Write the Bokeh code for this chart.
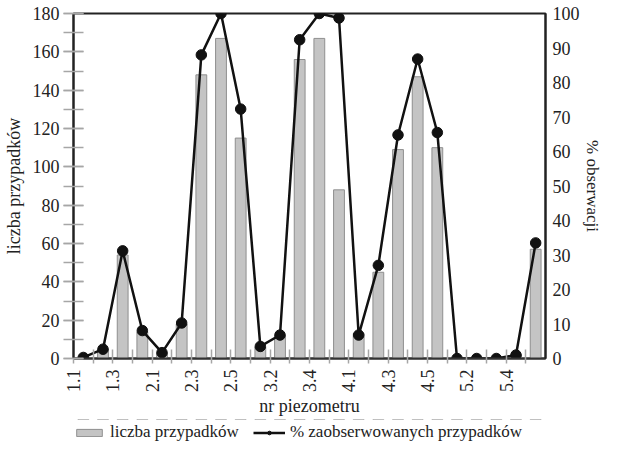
from bokeh.plotting import figure
from bokeh.layouts import column
from bokeh.models import (Range1d, LinearAxis, FixedTicker, SingleIntervalTicker,
                          Legend, LegendItem, ColumnDataSource)
from bokeh.embed import file_html
from bokeh.resources import INLINE
import math

# ---- data ----
categories = ["1.1", "1.2", "1.3", "1.4", "2.1", "2.2", "2.3", "2.4", "2.5", "3.1",
              "3.2", "3.3", "3.4", "3.5", "4.1", "4.2", "4.3", "4.4", "4.5", "5.1",
              "5.2", "5.3", "5.4", "5.5"]
counts = [1, 5, 54, 14, 3, 18, 148, 167, 115, 6, 12, 156, 167, 88, 13, 45, 109, 147,
          110, 0, 0, 0, 2, 57]
percent = [0.3, 2.7, 31.2, 8.1, 1.7, 10.3, 88, 100, 72.3, 3.5, 6.8, 92.4, 100, 98.7,
           6.8, 27, 64.8, 86.8, 65.5, 0, 0, 0, 1, 33.5]
tick_labels = categories[::2]
legend_labels = ["liczba przypadków", "% zaobserwowanych przypadków"]

FONT = "Liberation Serif"
TXT = "#222222"
BAR_FILL, BAR_LINE = "#c4c4c4", "#8f8f8f"
LINE_COL = "#111111"

xpos = [i + 0.5 for i in range(len(categories))]
src = ColumnDataSource(dict(x=xpos, counts=counts, pct=percent, cat=categories))

p = figure(width=605, height=419, x_range=Range1d(0, len(categories)),
           y_range=Range1d(0, 180), output_backend="svg", toolbar_location=None,
           min_border_left=70, min_border_right=60, min_border_top=13,
           min_border_bottom=60)
p.extra_y_ranges = {"pct": Range1d(0, 100)}
p.xgrid.visible = False
p.ygrid.visible = False
p.outline_line_color = "#222222"
p.outline_line_width = 2
p.background_fill_color = "white"
p.border_fill_color = "white"

p.vbar(x="x", top="counts", width=0.55, source=src, fill_color=BAR_FILL,
       line_color=BAR_LINE, line_width=1)
p.line(x="x", y="pct", source=src, y_range_name="pct", line_color=LINE_COL,
       line_width=2.5)
p.scatter(x="x", y="pct", source=src, y_range_name="pct", marker="circle",
          size=10.5, fill_color=LINE_COL, line_color=LINE_COL)

# x axis
xa = p.xaxis[0]
xa.ticker = FixedTicker(ticks=list(range(0, len(categories), 2)),
                        minor_ticks=list(range(1, len(categories) + 1, 2)))
xa.major_label_overrides = {i * 2: lab for i, lab in enumerate(tick_labels)}
xa.major_label_orientation = math.pi / 2
xa.major_tick_in = 9
xa.major_tick_out = 5
xa.minor_tick_in = 9
xa.minor_tick_out = 5
xa.major_tick_line_color = "#a6a6a6"
xa.minor_tick_line_color = "#a6a6a6"
xa.major_tick_line_width = 1.5
xa.minor_tick_line_width = 1.5
xa.axis_line_color = "#333333"
xa.axis_line_width = 2
xa.major_label_standoff = 6
xa.axis_label = "nr piezometru"
xa.axis_label_standoff = 1
xa.axis_label_text_font = FONT
xa.axis_label_text_font_size = "18px"
xa.axis_label_text_font_style = "normal"
xa.axis_label_text_color = TXT
xa.major_label_text_font = FONT
xa.major_label_text_font_size = "18px"
xa.major_label_text_color = TXT

# left axis
ya = p.yaxis[0]
ya.ticker = SingleIntervalTicker(interval=20, num_minor_ticks=2)
ya.major_tick_in = 10
ya.major_tick_out = 10
ya.minor_tick_in = 10
ya.minor_tick_out = 10
ya.major_tick_line_color = "#a6a6a6"
ya.minor_tick_line_color = "#a6a6a6"
ya.major_tick_line_width = 1.5
ya.minor_tick_line_width = 1.5
ya.axis_line_color = "#222222"
ya.axis_line_width = 2
ya.major_label_standoff = 4
ya.major_label_text_font = FONT
ya.major_label_text_font_size = "18px"
ya.major_label_text_color = TXT
ya.axis_label = "liczba przypadków"
ya.axis_label_standoff = 6
ya.axis_label_text_font = FONT
ya.axis_label_text_font_size = "18px"
ya.axis_label_text_font_style = "normal"
ya.axis_label_text_color = TXT

# right axis
ra = LinearAxis(y_range_name="pct", ticker=SingleIntervalTicker(interval=10, num_minor_ticks=0))
ra.major_tick_in = 0
ra.major_tick_out = 0
ra.minor_tick_in = 0
ra.minor_tick_out = 0
ra.axis_line_color = "#222222"
ra.axis_line_width = 2
ra.major_label_standoff = 7
ra.major_label_text_font = FONT
ra.major_label_text_font_size = "18px"
ra.major_label_text_color = TXT
ra.axis_label = "% obserwacji"
ra.axis_label_standoff = 0
ra.axis_label_text_font = FONT
ra.axis_label_text_font_size = "17px"
ra.axis_label_text_font_style = "normal"
ra.axis_label_text_color = TXT
p.add_layout(ra, "right")

# ---- legend strip: small figure whose data lies far outside its visible y window ----
lg = figure(width=605, height=24, x_range=Range1d(0, len(categories)),
            y_range=Range1d(-2000, -1000), output_backend="svg", toolbar_location=None,
            x_axis_location=None, y_axis_location=None,
            min_border_left=0, min_border_right=0, min_border_top=0,
            min_border_bottom=0)
lg.xgrid.visible = False
lg.ygrid.visible = False
lg.outline_line_color = None
lg.background_fill_color = "white"
lg.border_fill_color = "white"
lb = lg.vbar(x="x", top="counts", width=0.55, source=src, fill_color=BAR_FILL,
             line_color=BAR_LINE, line_width=1)
ll = lg.line(x="x", y="pct", source=src, line_color=LINE_COL, line_width=2.5)
ls = lg.scatter(x="x", y="pct", source=src, marker="circle", size=10.5,
                fill_color=LINE_COL, line_color=LINE_COL)
legend = Legend(items=[LegendItem(label=legend_labels[0], renderers=[lb]),
                       LegendItem(label=legend_labels[1], renderers=[ll, ls])],
                orientation="horizontal", location=(0, 1), margin=0, padding=1,
                spacing=14, glyph_width=32, glyph_height=9, label_standoff=5,
                label_height=20, label_text_font=FONT, label_text_font_size="17px",
                label_text_color=TXT, border_line_color=None, background_fill_alpha=0)
lg.add_layout(legend, "center")

layout = column(p, lg, spacing=0)
open("out.html", "w").write(file_html(layout, INLINE))
